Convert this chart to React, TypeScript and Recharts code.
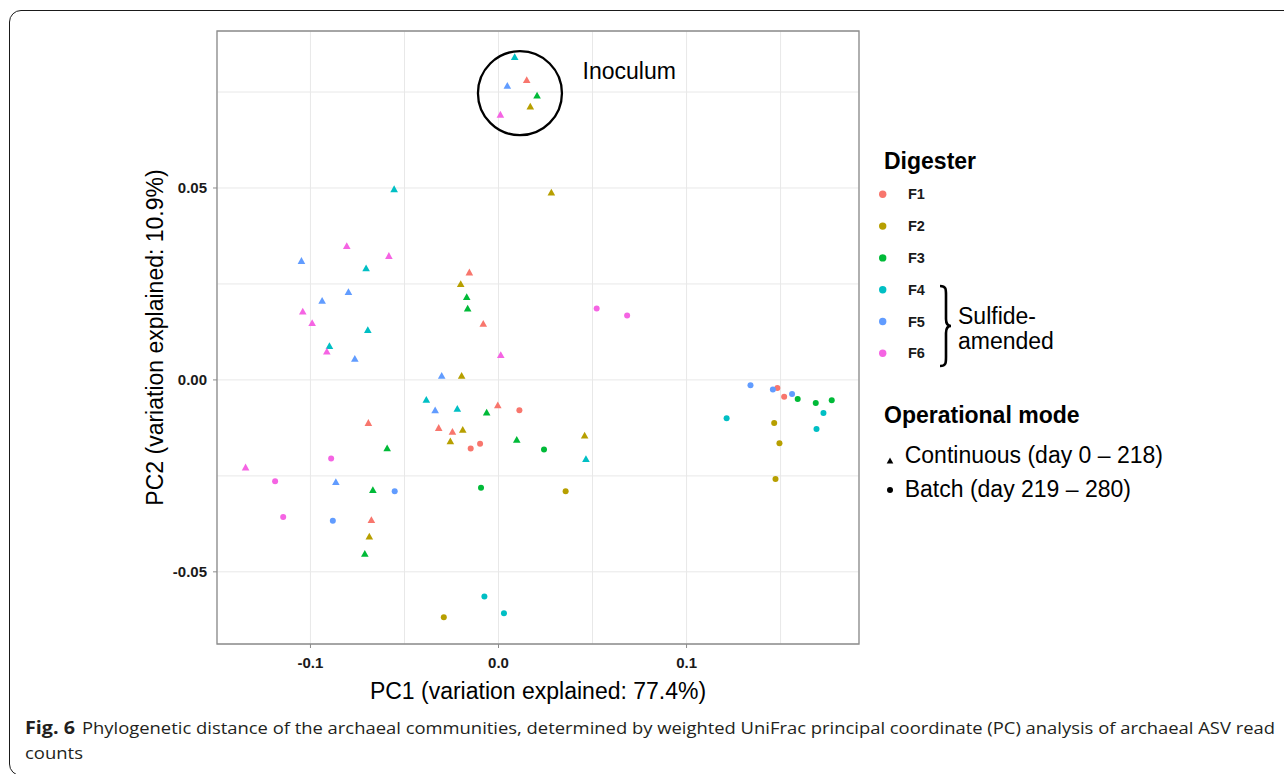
import React from 'react';
import {
  ScatterChart,
  Scatter,
  XAxis,
  YAxis,
  CartesianGrid,
  ReferenceArea,
  ReferenceDot,
  Legend,
} from 'recharts';

type Pt = [number, number];

// ---------- categories ----------
const digesters = ['F1', 'F2', 'F3', 'F4', 'F5', 'F6'];
const digesterColors = ['#F8766D', '#B79F00', '#00BA38', '#00BFC4', '#619CFF', '#F564E3'];
const modeLabels = ['Continuous (day 0 \u2013 218)', 'Batch (day 219 \u2013 280)'];
const sulfideLabel = ['Sulfide-', 'amended'];

// ---------- series values [PC1, PC2] ----------
const f1Continuous: Pt[] = [
  [0.015, 0.078], [-0.0155, 0.0279], [-0.0081, 0.0145], [-0.0004, -0.0067],
  [-0.0692, -0.0113], [-0.0318, -0.0126], [-0.0245, -0.0136], [-0.0676, -0.0366],
];
const f1Batch: Pt[] = [
  [0.0111, -0.0079], [-0.0148, -0.0179], [-0.0098, -0.0166], [0.1483, -0.0021], [0.1519, -0.0044],
];
const f2Continuous: Pt[] = [
  [0.0169, 0.0711], [0.0281, 0.0487], [-0.0201, 0.0249], [-0.0196, 0.001],
  [-0.019, -0.0131], [-0.0256, -0.0161], [-0.0687, -0.0409], [0.0458, -0.0146],
];
const f2Batch: Pt[] = [
  [0.0357, -0.029], [-0.0291, -0.0618], [0.1494, -0.0165], [0.1473, -0.0258], [0.1466, -0.0112],
];
const f3Continuous: Pt[] = [
  [0.0205, 0.074], [-0.0169, 0.0215], [-0.0164, 0.0185], [-0.0063, -0.0086],
  [0.0097, -0.0157], [-0.0592, -0.0179], [-0.0668, -0.0288], [-0.0711, -0.0454],
];
const f3Batch: Pt[] = [
  [0.0242, -0.0181], [-0.0093, -0.0281], [0.1591, -0.005], [0.1687, -0.006], [0.1772, -0.0053],
];
const f4Continuous: Pt[] = [
  [0.0086, 0.084], [-0.0555, 0.0496], [-0.0704, 0.029], [-0.0695, 0.0129],
  [-0.0899, 0.0087], [-0.0384, -0.0053], [-0.0219, -0.0076], [0.0465, -0.0207],
];
const f4Batch: Pt[] = [
  [-0.0075, -0.0564], [0.0029, -0.0608], [0.1213, -0.01], [0.1728, -0.0086], [0.1691, -0.0128],
];
const f5Continuous: Pt[] = [
  [0.0047, 0.0765], [-0.1048, 0.0309], [-0.0798, 0.0228], [-0.0938, 0.0205],
  [-0.0764, 0.0054], [-0.0302, 0.001], [-0.0337, -0.008], [-0.0865, -0.0267],
];
const f5Batch: Pt[] = [
  [-0.0552, -0.029], [-0.0881, -0.0367], [0.134, -0.0014], [0.1459, -0.0025], [0.1561, -0.0037],
];
const f6Continuous: Pt[] = [
  [0.001, 0.069], [-0.0807, 0.0348], [-0.0583, 0.0322], [-0.1041, 0.0177],
  [-0.0991, 0.0147], [-0.0913, 0.0073], [0.0012, 0.0064], [-0.1345, -0.0229],
];
const f6Batch: Pt[] = [
  [-0.089, -0.0205], [-0.1188, -0.0264], [-0.1145, -0.0357], [0.0522, 0.0186], [0.0684, 0.0168],
];

const continuousByDigester = [f1Continuous, f2Continuous, f3Continuous, f4Continuous, f5Continuous, f6Continuous];
const batchByDigester = [f1Batch, f2Batch, f3Batch, f4Batch, f5Batch, f6Batch];

// ---------- axes ----------
const xDomain: [number, number] = [-0.1497, 0.1917];
const yDomain: [number, number] = [-0.0688, 0.0909];
const xTicks = [-0.1, -0.05, 0, 0.05, 0.1, 0.15];
const yTicks = [-0.05, -0.025, 0, 0.025, 0.05, 0.075];
const xTickLabels: Record<string, string> = { '-0.1': '-0.1', '0': '0.0', '0.1': '0.1' };
const yTickLabels: Record<string, string> = { '-0.05': '-0.05', '0': '0.00', '0.05': '0.05' };
const xTitle = 'PC1 (variation explained: 77.4%)';
const yTitle = 'PC2 (variation explained: 10.9%)';

// annotation
const inoculumCenter: Pt = [0.0114, 0.0747];
const inoculumLabelAnchor: Pt = [0.0447, 0.0785];
const inoculumText = 'Inoculum';

const captionBold = 'Fig. 6';
const captionLine1 =
  'Phylogenetic distance of the archaeal communities, determined by weighted UniFrac principal coordinate (PC) analysis of archaeal ASV read';
const captionLine2 = 'counts';

const FONT = '"Liberation Sans", Arial, Helvetica, sans-serif';
const AXIS_GREY = '#8C8C8C';
const BIG = 23;

const toPts = (arr: Pt[]) => arr.map(([x, y]) => ({ x, y }));

const Triangle = (props: any) => {
  const { cx, cy, fill } = props;
  if (cx == null || cy == null) return <g />;
  return <path d={`M${cx},${cy - 4.2} L${cx + 3.8},${cy + 2.6} L${cx - 3.8},${cy + 2.6} Z`} fill={fill} />;
};

const Dot = (props: any) => {
  const { cx, cy, fill } = props;
  if (cx == null || cy == null) return <g />;
  return <circle cx={cx} cy={cy} r={3} fill={fill} />;
};

const XTick = (props: any) => {
  const { x, y, payload } = props;
  const label = xTickLabels[String(payload.value)];
  if (!label) return <g />;
  return (
    <g>
      <line x1={x} x2={x} y1={y} y2={y + 4} stroke={AXIS_GREY} strokeWidth={1} />
      <text x={x} y={y + 24} textAnchor="middle" fontFamily={FONT} fontSize={15} fontWeight="bold" fill="#1a1a1a">
        {label}
      </text>
    </g>
  );
};

const YTick = (props: any) => {
  const { x, y, payload } = props;
  const label = yTickLabels[String(payload.value)];
  if (!label) return <g />;
  return (
    <g>
      <line x1={x - 4} x2={x} y1={y} y2={y} stroke={AXIS_GREY} strokeWidth={1} />
      <text x={x - 10} y={y + 5} textAnchor="end" fontFamily={FONT} fontSize={15} fontWeight="bold" fill="#1a1a1a">
        {label}
      </text>
    </g>
  );
};

const XTitle = (props: any) => {
  const vb = props.viewBox || { x: 0, y: 0, width: 0, height: 0 };
  return (
    <text x={vb.x + vb.width / 2} y={vb.y + 55} textAnchor="middle" fontFamily={FONT} fontSize={BIG} fill="#000">
      {xTitle}
    </text>
  );
};

const YTitle = (props: any) => {
  const vb = props.viewBox || { x: 0, y: 0, width: 0, height: 0 };
  const cx = vb.x + 26;
  const cy = vb.y + vb.height / 2;
  return (
    <text
      x={cx}
      y={cy}
      transform={`rotate(-90, ${cx}, ${cy})`}
      textAnchor="middle"
      fontFamily={FONT}
      fontSize={BIG}
      fill="#000"
    >
      {yTitle}
    </text>
  );
};

const InoculumLabel = (props: any) => {
  const { cx, cy } = props;
  if (cx == null || cy == null) return <g />;
  return (
    <text x={cx} y={cy} fontFamily={FONT} fontSize={BIG} fill="#000">
      {inoculumText}
    </text>
  );
};

const LegendBlock = () => {
  const rowY = (i: number) => 54.3 + i * 31.8;
  return (
    <svg width={330} height={380} style={{ display: 'block' }}>
      <text x={22} y={29} fontFamily={FONT} fontSize={BIG} fontWeight="bold" fill="#000">
        Digester
      </text>
      {digesters.map((d, i) => (
        <g key={d}>
          <circle cx={20.7} cy={rowY(i)} r={3.7} fill={digesterColors[i]} />
          <text x={46} y={rowY(i) + 5} fontFamily={FONT} fontSize={14.5} fontWeight="bold" fill="#1a1a1a">
            {d}
          </text>
        </g>
      ))}
      <path
        d="M78,146 C84,146 84,149 84,155 L84,179 C84,184 86,186 89,186 C86,186 84,188 84,193 L84,217 C84,223 84,226 78,226"
        fill="none"
        stroke="#000"
        strokeWidth={2.6}
      />
      <text x={96} y={184} fontFamily={FONT} fontSize={BIG} fill="#000">
        {sulfideLabel[0]}
      </text>
      <text x={96} y={209} fontFamily={FONT} fontSize={BIG} fill="#000">
        {sulfideLabel[1]}
      </text>
      <text x={22} y={283} fontFamily={FONT} fontSize={BIG} fontWeight="bold" fill="#000">
        Operational mode
      </text>
      <path d="M28,317.5 L31.3,323.5 L24.7,323.5 Z" fill="#000" />
      <text x={42.7} y={322.7} fontFamily={FONT} fontSize={BIG} fill="#000">
        {modeLabels[0]}
      </text>
      <circle cx={28} cy={350} r={3} fill="#000" />
      <text x={42.7} y={356.7} fontFamily={FONT} fontSize={BIG} fill="#000">
        {modeLabels[1]}
      </text>
    </svg>
  );
};

export default function App() {
  return (
    <div
      style={{
        position: 'absolute',
        left: 0,
        top: 0,
        width: 1284,
        height: 774,
        overflow: 'hidden',
        background: '#fff',
      }}
    >
      {/* figure frame */}
      <div
        style={{
          position: 'absolute',
          left: 9,
          top: 10,
          width: 1320,
          height: 766,
          border: '1.5px solid #1a1a1a',
          borderRadius: 12,
          boxSizing: 'border-box',
        }}
      />
      <div style={{ position: 'absolute', left: 0, top: 0 }}>
        <ScatterChart width={1284} height={774} margin={{ top: 31, right: 425, bottom: 70, left: 137 }}>
          <CartesianGrid stroke="#E8E8E8" strokeWidth={1} />
          <XAxis
            type="number"
            dataKey="x"
            domain={xDomain}
            ticks={xTicks}
            interval={0}
            allowDataOverflow
            axisLine={false}
            tickLine={false}
            tickSize={0}
            tickMargin={0}
            height={60}
            tick={<XTick />}
            label={<XTitle />}
          />
          <YAxis
            type="number"
            dataKey="y"
            domain={yDomain}
            ticks={yTicks}
            interval={0}
            allowDataOverflow
            axisLine={false}
            tickLine={false}
            tickSize={0}
            tickMargin={0}
            width={80}
            tick={<YTick />}
            label={<YTitle />}
          />
          <ReferenceArea
            x1={xDomain[0]}
            x2={xDomain[1]}
            y1={yDomain[0]}
            y2={yDomain[1]}
            fill="none"
            fillOpacity={0}
            stroke={AXIS_GREY}
            strokeWidth={1.3}
          />
          {digesters.map((d, i) => (
            <Scatter
              key={`${d}-c`}
              name={`${d} continuous`}
              data={toPts(continuousByDigester[i])}
              fill={digesterColors[i]}
              shape={<Triangle />}
              isAnimationActive={false}
            />
          ))}
          {digesters.map((d, i) => (
            <Scatter
              key={`${d}-b`}
              name={`${d} batch`}
              data={toPts(batchByDigester[i])}
              fill={digesterColors[i]}
              shape={<Dot />}
              isAnimationActive={false}
            />
          ))}
          <ReferenceDot
            x={inoculumCenter[0]}
            y={inoculumCenter[1]}
            r={42}
            fill="none"
            stroke="#000"
            strokeWidth={2.3}
          />
          <ReferenceDot
            x={inoculumLabelAnchor[0]}
            y={inoculumLabelAnchor[1]}
            r={1}
            shape={<InoculumLabel />}
          />
          <Legend
            layout="horizontal"
            verticalAlign="middle"
            align="center"
            content={() => <LegendBlock />}
            wrapperStyle={{ position: 'absolute', left: 862, top: 140, width: 330, height: 380 }}
          />
        </ScatterChart>
      </div>
      {/* caption */}
      <svg style={{ position: 'absolute', left: 0, top: 700 }} width={1284} height={74}>
        <text
          x={25}
          y={34}
          fontFamily='"Liberation Sans Narrow", "Open Sans", sans-serif'
          fontSize={17}
          fontWeight="bold"
          fill="#231F20"
          textLength={50}
          lengthAdjust="spacingAndGlyphs"
        >
          {captionBold}
        </text>
        <text
          x={82}
          y={34}
          fontFamily='"Liberation Sans Narrow", "Open Sans", sans-serif'
          fontSize={17}
          fill="#231F20"
          textLength={1193}
          lengthAdjust="spacingAndGlyphs"
        >
          {captionLine1}
        </text>
        <text
          x={25}
          y={59}
          fontFamily='"Liberation Sans Narrow", "Open Sans", sans-serif'
          fontSize={17}
          fill="#231F20"
          textLength={58}
          lengthAdjust="spacingAndGlyphs"
        >
          {captionLine2}
        </text>
      </svg>
    </div>
  );
}
